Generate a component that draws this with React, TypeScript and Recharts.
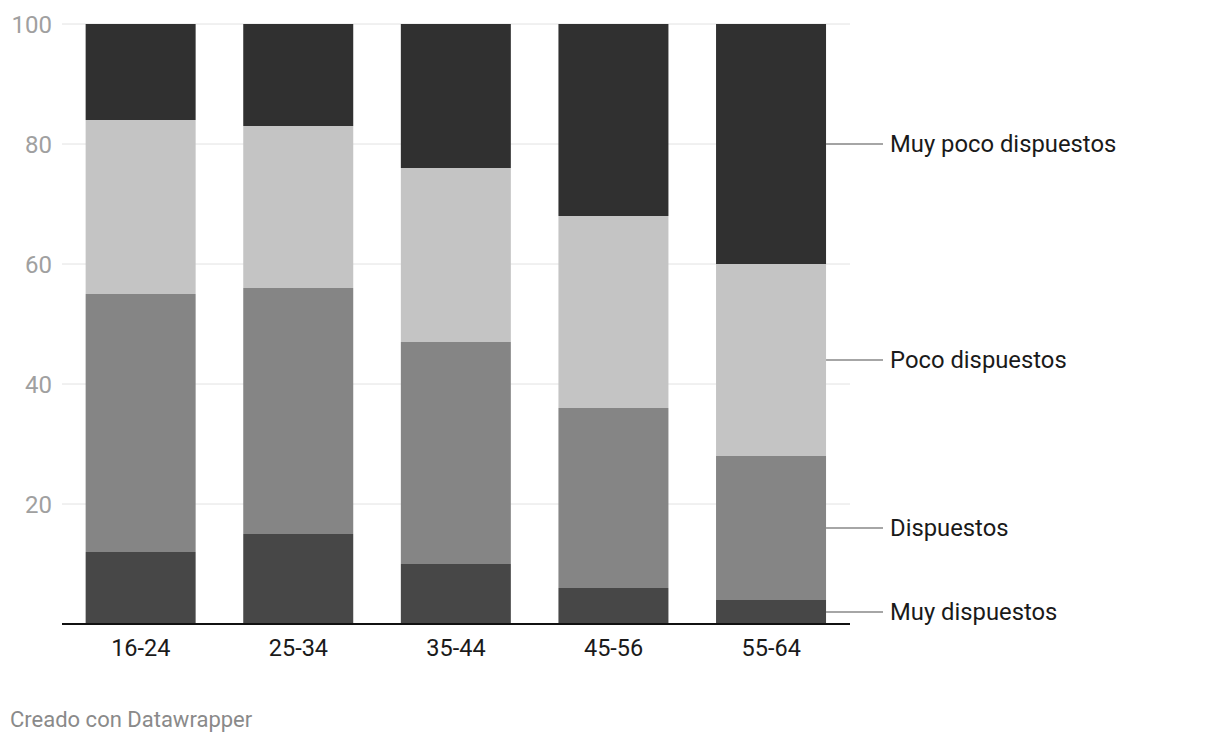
import React from "react";
import { BarChart, Bar, XAxis, YAxis, CartesianGrid, LabelList } from "recharts";

const categories = ["16-24", "25-34", "35-44", "45-56", "55-64"];
const muyDispuestos = [12, 15, 10, 6, 4];
const dispuestos = [43, 41, 37, 30, 24];
const pocoDispuestos = [29, 27, 29, 32, 32];
const muyPocoDispuestos = [16, 17, 24, 32, 40];
const yTicks = [20, 40, 60, 80, 100];

const series = [
  { key: "muy", name: "Muy dispuestos", color: "#474747" },
  { key: "disp", name: "Dispuestos", color: "#858585" },
  { key: "poco", name: "Poco dispuestos", color: "#c4c4c4" },
  { key: "muypoco", name: "Muy poco dispuestos", color: "#303030" },
];

const data = categories.map((c, i) => ({
  cat: c,
  muy: muyDispuestos[i],
  disp: dispuestos[i],
  poco: pocoDispuestos[i],
  muypoco: muyPocoDispuestos[i],
}));

const FONT = "Roboto, 'Noto Sans', sans-serif";

const makeLabel = (name: string) => (props: any) => {
  const { x, y, width, height, index } = props;
  if (index !== data.length - 1) return null;
  const xr = Number(x) + Number(width);
  const ym = Number(y) + Number(height) / 2;
  return (
    <g>
      <line x1={xr} y1={ym} x2={xr + 57} y2={ym} stroke="#888" strokeWidth={1.5} />
      <text x={xr + 64} y={ym} dy="0.35em" fontSize={23.8} fill="#1a1a1a" fontFamily={FONT}>
        {name}
      </text>
    </g>
  );
};

export default function App() {
  return (
    <div style={{ position: "absolute", left: 0, top: 0, width: 1220, height: 744, background: "#fff", fontFamily: FONT }}>
      <BarChart
        width={1220}
        height={680}
        data={data}
        margin={{ top: 24, right: 370, left: 0, bottom: 16 }}
        barCategoryGap="15%"
      >
        <CartesianGrid vertical={false} stroke="#e2e2e2" />
        <XAxis
          dataKey="cat"
          tickLine={false}
          tickSize={0}
          tickMargin={15}
          height={40}
          axisLine={{ stroke: "#111", strokeWidth: 2 }}
          tick={{ fontSize: 23.5, fill: "#1a1a1a", fontFamily: FONT }}
        />
        <YAxis
          domain={[0, 100]}
          ticks={yTicks}
          width={62}
          tickLine={false}
          axisLine={false}
          tickSize={0}
          tickMargin={10}
          tick={{ fontSize: 24, fill: "#a0a0a0", fontFamily: FONT }}
        />
        {series.map((s) => (
          <Bar key={s.key} dataKey={s.key} stackId="a" fill={s.color} isAnimationActive={false}>
            <LabelList dataKey={s.key} content={makeLabel(s.name)} />
          </Bar>
        ))}
      </BarChart>
      <div style={{ position: "absolute", left: 10, top: 707, fontSize: 22, color: "#8a8a8a", fontFamily: FONT }}>
        Creado con Datawrapper
      </div>
    </div>
  );
}
